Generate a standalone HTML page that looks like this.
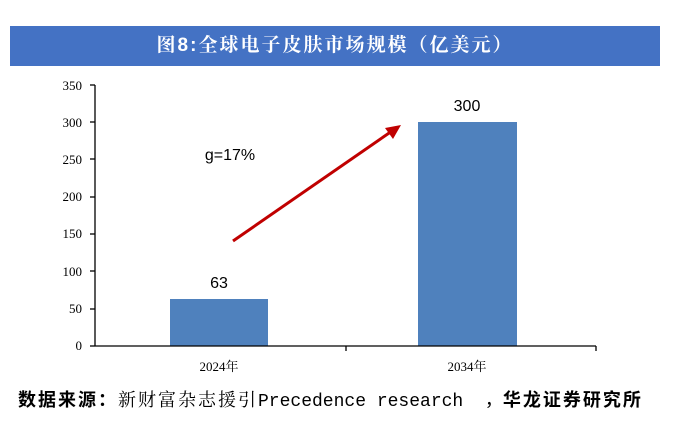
<!DOCTYPE html>
<html><head><meta charset="utf-8"><style>
body{margin:0;width:675px;height:423px;background:#fff;overflow:hidden;position:relative;font-family:"Liberation Sans","Noto Sans CJK SC",sans-serif}
.banner{position:absolute;left:10px;top:26px;width:650px;height:40px;background:#4472c4;color:#fff;font-size:19px;font-weight:bold;text-align:center;line-height:40px;letter-spacing:2px;font-family:"Liberation Sans","Noto Serif CJK SC",serif}
.foot{position:absolute;left:18px;top:386px;font-size:18px;white-space:pre}
.cj{letter-spacing:2px}
</style></head><body>
<div class="banner">图8:全球电子皮肤市场规模（亿美元）</div>
<svg width="675" height="423" style="position:absolute;left:0;top:0">
<g font-family="Liberation Serif,serif" font-size="13" text-anchor="end" fill="#000">
<text x="82" y="90">350</text><text x="82" y="127">300</text><text x="82" y="164">250</text><text x="82" y="201">200</text><text x="82" y="238">150</text><text x="82" y="276">100</text><text x="82" y="313">50</text><text x="82" y="350">0</text>
</g>
<rect x="170" y="299" width="98" height="47" fill="#4f81bd"/>
<rect x="418" y="122" width="99" height="224" fill="#4f81bd"/>
<g stroke="#000" stroke-width="1.3">
<line x1="95" y1="85" x2="95" y2="346"/>
<line x1="95" y1="346" x2="596" y2="346"/>
<line x1="90" y1="85" x2="95" y2="85"/><line x1="90" y1="122" x2="95" y2="122"/><line x1="90" y1="159" x2="95" y2="159"/><line x1="90" y1="197" x2="95" y2="197"/><line x1="90" y1="234" x2="95" y2="234"/><line x1="90" y1="271" x2="95" y2="271"/><line x1="90" y1="309" x2="95" y2="309"/><line x1="90" y1="346" x2="95" y2="346"/>
<line x1="346" y1="346" x2="346" y2="351"/><line x1="596" y1="346" x2="596" y2="351"/>
</g>
<g font-family="Liberation Serif,'Noto Serif CJK SC',serif" font-size="13" text-anchor="middle">
<text x="219" y="371">2024年</text><text x="467" y="371">2034年</text>
</g>
<g font-size="16" text-anchor="middle">
<text x="219" y="288">63</text><text x="467" y="111">300</text>
<text x="230" y="160">g=17%</text>
</g>
<line x1="233" y1="241" x2="392" y2="131" stroke="#c00000" stroke-width="3"/>
<polygon points="401,125 385,128 393,139" fill="#c00000"/>
</svg>
<div class="foot"><b class="cj" style="font-family:'Noto Sans CJK SC',sans-serif">数据来源：</b><span class="cj" style="font-family:'Noto Serif CJK SC',serif">新财富杂志援引</span><span style="font-family:'Liberation Mono',monospace">Precedence research  ，</span><b class="cj" style="font-family:'Noto Sans CJK SC',sans-serif">华龙证券研究所</b></div>
</body></html>
